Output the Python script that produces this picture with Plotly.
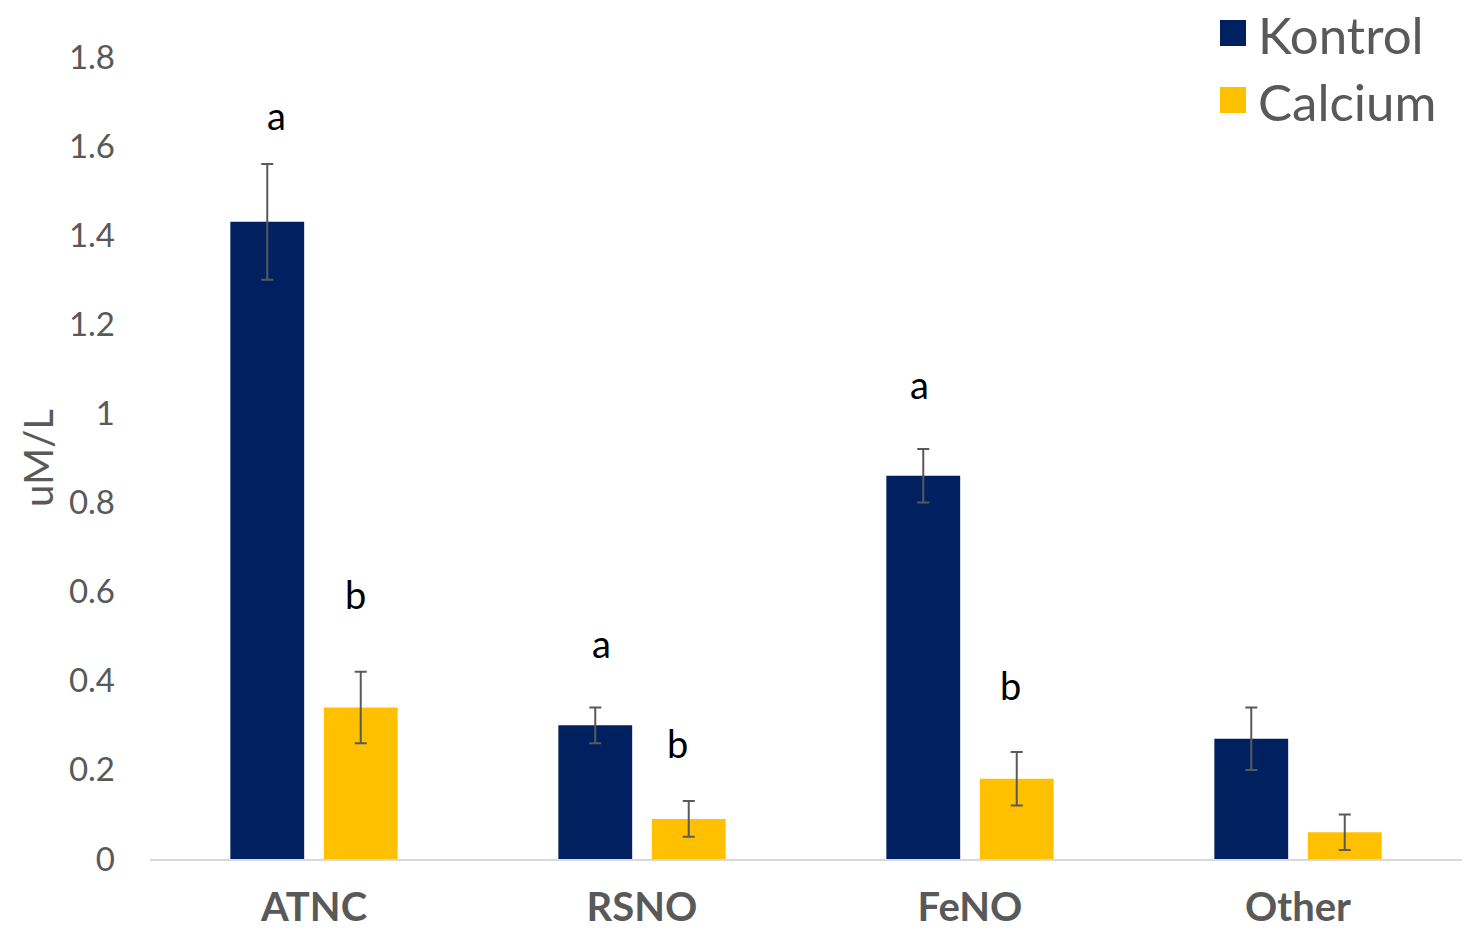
import plotly.graph_objects as go

# Nitric oxide species concentrations (uM/L), mean with error
categories = ["ATNC", "RSNO", "FeNO", "Other"]
kontrol = [1.43, 0.30, 0.86, 0.27]
kontrol_err = [0.13, 0.04, 0.06, 0.07]
calcium = [0.34, 0.09, 0.18, 0.06]
calcium_err = [0.08, 0.04, 0.06, 0.04]

# Significance letters: category, letter, y value, horizontal shift (px)
letter_cats = ["ATNC", "ATNC", "RSNO", "RSNO", "FeNO", "FeNO"]
letter_text = ["a", "b", "a", "b", "a", "b"]
letter_y = [1.67, 0.595, 0.485, 0.26, 1.065, 0.39]
letter_shift = [-38, 41, -41, 35, -51, 40]

NAVY = "#002060"
GOLD = "#FFC000"
GREY = "#595959"
FONT = "Lato"

fig = go.Figure()
fig.add_trace(go.Bar(
    x=categories, y=kontrol, name="Kontrol",
    marker=dict(color=NAVY, line=dict(width=0)),
    error_y=dict(type="data", array=kontrol_err, color=GREY, thickness=2, width=6),
))
fig.add_trace(go.Bar(
    x=categories, y=calcium, name="Calcium",
    marker=dict(color=GOLD, line=dict(width=0)),
    error_y=dict(type="data", array=calcium_err, color=GREY, thickness=2, width=6),
))

for c, t, y, dx in zip(letter_cats, letter_text, letter_y, letter_shift):
    fig.add_annotation(x=c, y=y, text=t, showarrow=False, xshift=dx,
                       yanchor="middle", xanchor="center",
                       font=dict(family=FONT, size=38, color="black"))

# Y axis title
fig.add_annotation(xref="paper", yref="paper", x=(38 - 150) / 1312, y=0.5,
                   text="uM/L", textangle=-90, showarrow=False,
                   xanchor="center", yanchor="middle",
                   font=dict(family=FONT, size=40, color=GREY))

# Legend drawn with large square keys
legend_items = [("Kontrol", NAVY, 33), ("Calcium", GOLD, 100)]
W, H = 1465, 931
L, R, T, B = 150, 3, 57, 72
pw, ph = W - L - R, H - T - B
for name, col, yc in legend_items:
    x0 = (1220 - L) / pw
    x1 = (1246 - L) / pw
    y0 = 1 - (yc + 13 - T) / ph
    y1 = 1 - (yc - 13 - T) / ph
    fig.add_shape(type="rect", xref="paper", yref="paper", x0=x0, x1=x1, y0=y0, y1=y1,
                  fillcolor=col, line=dict(width=0))
    fig.add_annotation(xref="paper", yref="paper", x=(1256 - L) / pw,
                       y=1 - (yc + 1 - T) / ph, text=name, showarrow=False,
                       xanchor="left", yanchor="middle",
                       font=dict(family=FONT, size=51, color=GREY))

fig.update_layout(
    width=W, height=H,
    margin=dict(l=L, r=R, t=T, b=B, autoexpand=False),
    paper_bgcolor="white", plot_bgcolor="white",
    barmode="group", bargap=0.43, bargroupgap=0.21,
    showlegend=False,
    font=dict(family=FONT, color=GREY),
)
fig.update_xaxes(
    showline=True, linecolor="#D9D9D9", linewidth=2,
    showgrid=False, ticks="", ticklabelstandoff=12,
    tickfont=dict(family=FONT, size=40, color=GREY, weight="bold"),
)
fig.update_yaxes(
    range=[0, 1.8], dtick=0.2, tickformat="~g",
    showgrid=False, zeroline=False, showline=False, ticks="",
    ticklabelstandoff=34,
    tickfont=dict(family=FONT, size=33, color=GREY),
)

fig.write_html("out.html")
